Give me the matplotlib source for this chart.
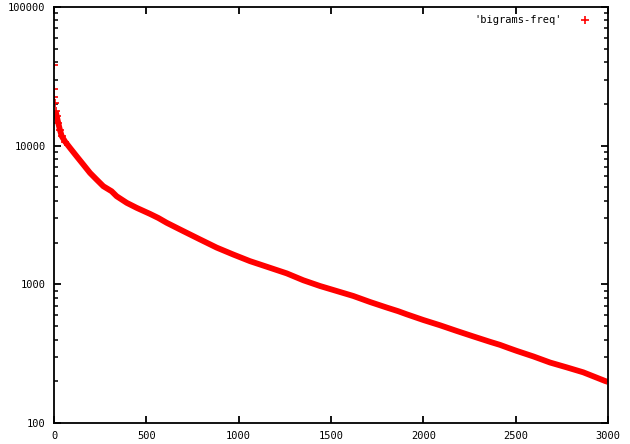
import matplotlib
matplotlib.use("Agg")
import matplotlib.pyplot as plt
from matplotlib.ticker import LogLocator, NullFormatter, FixedLocator

# rank of the bigram and its frequency
rank = [0, 1, 2, 5, 9, 15, 23, 32, 42, 60, 87, 123, 159, 195, 231, 267,
        312, 339, 394, 448, 520, 565, 610, 700, 790, 881, 971, 1061, 1152,
        1260, 1350, 1440, 1531, 1621, 1711, 1802, 1864, 1910, 2000, 2090,
        2181, 2271, 2361, 2415, 2460, 2506, 2596, 2686, 2776, 2866, 2984, 2999]
freq = [38300, 25600, 22600, 20300, 17700, 16300, 14600, 13000, 11700, 10700,
        9620, 8370, 7300, 6360, 5690, 5100, 4690, 4320, 3870, 3560, 3220,
        3010, 2780, 2420, 2110, 1840, 1640, 1470, 1340, 1200, 1070, 973, 895,
        824, 746, 680, 640, 608, 553, 507, 461, 421, 385, 366, 348, 331, 302,
        273, 252, 232, 201, 198]
label = "'bigrams-freq'"
xticks = [0, 500, 1000, 1500, 2000, 2500, 3000]

plt.rcParams['font.family'] = 'DejaVu Sans Mono'
plt.rcParams['font.size'] = 7.5

fig = plt.figure(figsize=(6.3, 4.44), dpi=100)
ax = fig.add_axes([54 / 630, 1 - 423 / 444, 554 / 630, 416 / 444])

red = '#ff0000'
# the dense band of '+' marks, drawn as one thick stroke
ax.plot(rank[4:], freq[4:], '-', color=red, lw=4.2, solid_capstyle='butt',
        solid_joinstyle='round')
# the first few points stand apart as single marks
ax.plot(rank[:10], freq[:10], '+', color=red, ms=5.5, mew=1.2, label=label)

ax.set_yscale('log')
ax.set_xlim(0, 3000)
ax.set_ylim(100, 100000)
ax.xaxis.set_major_locator(FixedLocator(xticks))
ax.set_xticklabels([str(t) for t in xticks])
ax.yaxis.set_minor_locator(LogLocator(base=10, subs=range(2, 10)))
ax.yaxis.set_minor_formatter(NullFormatter())
ax.set_yticks([100, 1000, 10000, 100000])
ax.set_yticklabels(['100', '1000', '10000', '100000'])

for s in ax.spines.values():
    s.set_linewidth(1.3)
ax.tick_params(which='major', direction='in', length=5, width=1.3,
               top=True, right=True, pad=6)
ax.tick_params(which='minor', direction='in', length=3, width=1.1,
               top=False, right=True)

ax.legend(loc='upper right', bbox_to_anchor=(1 - 7 / 554, 1),
          markerfirst=False, frameon=False,
          handlelength=1.5, borderaxespad=0.4, handletextpad=1.5)

fig.savefig('out.png', dpi=100)
